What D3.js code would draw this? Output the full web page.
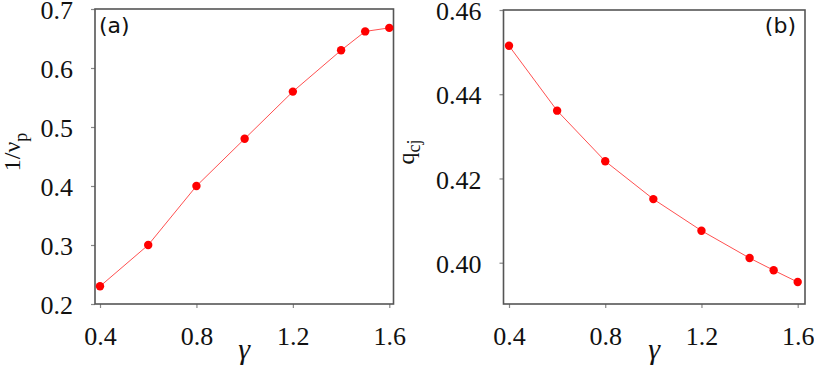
<!DOCTYPE html>
<html><head><meta charset="utf-8">
<script src="https://cdn.jsdelivr.net/npm/d3@7"></script>
<style>body{margin:0;background:#fff}svg{display:block}</style>
</head><body>
<svg id="c" width="814" height="369"></svg>
<script>
const gamma = [0.4, 0.6, 0.8, 1.0, 1.2, 1.4, 1.5, 1.6];
const invNu = [0.23, 0.30, 0.40, 0.48, 0.56, 0.63, 0.662, 0.668];
const qcj = [0.4515, 0.4361, 0.4241, 0.4151, 0.4076, 0.4011, 0.3982, 0.3954];
const xTicks = [0.4, 0.8, 1.2, 1.6];
const yTicksA = [0.2, 0.3, 0.4, 0.5, 0.6, 0.7];
const yTicksB = [0.40, 0.42, 0.44, 0.46];

const svg = d3.select("#c");
const red = "#ff0000";
const SERIF = '"Liberation Serif","Times New Roman",Times,serif';

function panel(o) {
  const x = d3.scaleLinear().domain([0.4, 1.6]).range([o.x0, o.x1]);
  const y = d3.scaleLinear().domain(o.ydom).range([o.y0, o.y1]);
  const g = svg.append("g");
  const xa = g.append("g").attr("transform", `translate(0,${o.bottom})`)
    .call(d3.axisBottom(x).tickValues(xTicks).tickSize(4).tickPadding(19).tickFormat(d3.format(".1f")));
  const ya = g.append("g").attr("transform", `translate(${o.left},0)`)
    .call(d3.axisLeft(y).tickValues(o.yticks).tickSize(4).tickPadding(18).tickFormat(d3.format(o.fmt)));
  [xa, ya].forEach(a => {
    a.attr("font-family", null).attr("font-size", null);
    a.select(".domain").remove();
    a.selectAll(".tick line").attr("stroke", "#888").attr("stroke-width", 1.2);
    a.selectAll(".tick text").style("font-family", SERIF).style("font-size", "26px").attr("fill", "#111");
  });
  ya.selectAll(".tick text").attr("dy", "0.37em");
  g.append("rect").attr("x", o.left).attr("y", o.top)
    .attr("width", o.right - o.left).attr("height", o.bottom - o.top)
    .attr("fill", "none").attr("stroke", "#555").attr("stroke-width", 1.6);
  const line = d3.line().x((d, i) => x(gamma[i])).y(d => y(d));
  g.append("path").datum(o.vals).attr("d", line).attr("fill", "none")
    .attr("stroke", "#ff5050").attr("stroke-width", 1);
  g.selectAll("circle").data(o.vals).join("circle")
    .attr("cx", (d, i) => x(gamma[i])).attr("cy", d => y(d)).attr("r", 4.2).attr("fill", red);
  g.append("text").attr("x", (o.left + o.right) / 2).attr("y", 359).attr("text-anchor", "middle")
    .style("font-family", SERIF).style("font-style", "italic").style("font-size", "30px").attr("fill", "#111").text("γ");
  g.append("text").attr("x", o.plx).attr("y", 33).attr("text-anchor", o.pla)
    .style("font-family", '"DejaVu Sans"').style("font-size", "22px").attr("fill", "#111").text(o.pl);
  return g;
}

panel({x0: 100, x1: 389.3, y0: 304, y1: 9, ydom: [0.2, 0.7], left: 95, right: 393.5, top: 9, bottom: 304,
  yticks: yTicksA, fmt: ".1f", vals: invNu, pl: "(a)", plx: 99, pla: "start"});
panel({x0: 509, x1: 797.7, y0: 262.7, y1: 10, ydom: [0.40, 0.46], left: 503.5, right: 805, top: 10, bottom: 304,
  yticks: yTicksB, fmt: ".2f", vals: qcj, pl: "(b)", plx: 796, pla: "end"});

const la = svg.append("text").attr("transform", "translate(20,152) rotate(-90)").attr("text-anchor", "middle")
  .style("font-family", SERIF).style("font-size", "24px").attr("fill", "#111");
la.append("tspan").text("1/ν");
la.append("tspan").attr("dy", 7).style("font-size", "18px").text("p");

const lb = svg.append("text").attr("transform", "translate(414,152) rotate(-90)").attr("text-anchor", "middle")
  .style("font-family", SERIF).style("font-size", "24px").attr("fill", "#111");
lb.append("tspan").text("q");
lb.append("tspan").attr("dy", 6).style("font-size", "18px").text("cj");
</script>
</body></html>
